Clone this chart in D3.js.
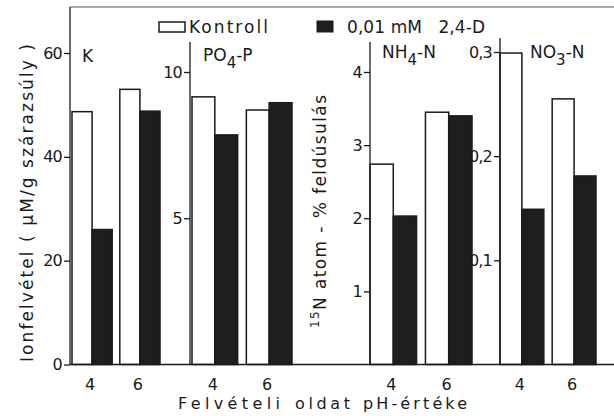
<!DOCTYPE html>
<html>
<head>
<meta charset="utf-8">
<script src="https://cdn.jsdelivr.net/npm/d3@7"></script>
<style>
  html, body { margin: 0; padding: 0; background: #fff; }
  svg { display: block; }
  text { font-family: "DejaVu Sans", "Noto Sans", sans-serif; fill: #1a1a1a; }
</style>
</head>
<body>
<svg id="chart" width="614" height="416"></svg>
<script>
// pH of the uptake solution
const phLevels = ["4", "6"];

// Ions, each drawn in its own panel with its own scale
const ionNames = ["K", "PO4-P", "NH4-N", "NO3-N"];

// Control uptake per ion, pH 4 and pH 6
const kontrollK   = [48.7, 53.0];
const kontrollPO4 = [9.15, 8.7];
const kontrollNH4 = [2.74, 3.45];
const kontrollNO3 = [0.299, 0.255];

// Uptake with 0.01 mM 2,4-D, pH 4 and pH 6
const dK   = [26.0, 48.8];
const dPO4 = [7.85, 8.95];
const dNH4 = [2.03, 3.40];
const dNO3 = [0.149, 0.181];

// Labelled ticks of each panel's axis
const ticksK   = [0, 20, 40, 60];
const ticksPO4 = [5, 10];
const ticksNH4 = [1, 2, 3, 4];
const ticksNO3 = [0.1, 0.2, 0.3];

const seriesNames = ["Kontroll", "0,01 mM   2,4-D"];

const huLocale = d3.formatLocale({ decimal: ",", thousands: " ", grouping: [3], currency: ["", " Ft"] });

const svg = d3.select("#chart");
const baseY = 364.5;
const ink = "#1a1a1a";
const darkFill = "#1e1e1e";

// panel layout: axis position, bar span, top of axis line, scale reference point
const panels = [
  { main: "K",  sub: "",  tail: "",   ctrl: kontrollK,   trt: dK,   ticks: ticksK,   fmt: d3.format("d"),
    axisX: 70,  span: [72, 160],  axisTop: 7,  refVal: 60,  refY: 53,  lab: [82, 62] },
  { main: "PO", sub: "4", tail: "-P", ctrl: kontrollPO4, trt: dPO4, ticks: ticksPO4, fmt: d3.format("d"),
    axisX: 190, span: [192, 292], axisTop: 42, refVal: 10,  refY: 72,  lab: [203, 61] },
  { main: "NH", sub: "4", tail: "-N", ctrl: kontrollNH4, trt: dNH4, ticks: ticksNH4, fmt: d3.format("d"),
    axisX: 370, span: [370, 472], axisTop: 42, refVal: 4,   refY: 72,  lab: [382, 58] },
  { main: "NO", sub: "3", tail: "-N", ctrl: kontrollNO3, trt: dNO3, ticks: ticksNO3, fmt: huLocale.format(".1f"),
    axisX: 500, span: [500, 596], axisTop: 38, refVal: 0.3, refY: 52,  lab: [530, 58] }
];

const barLayer = svg.append("g");
const axisLayer = svg.append("g");
const textLayer = svg.append("g");

// top frame line
barLayer.append("line").attr("x1", 70).attr("x2", 614).attr("y1", 7).attr("y2", 7)
  .attr("stroke", "#555").attr("stroke-width", 1);

panels.forEach(p => {
  const y = d3.scaleLinear().domain([0, p.refVal]).range([baseY, p.refY]);
  const x = d3.scaleBand().domain(phLevels).range(p.span).paddingInner(0.16);
  const xi = d3.scaleBand().domain(["ctrl", "trt"]).range([0, x.bandwidth()]);

  // bars
  phLevels.forEach((ph, i) => {
    [["ctrl", p.ctrl[i], "#fff"], ["trt", p.trt[i], darkFill]].forEach(([key, v, fill]) => {
      barLayer.append("rect")
        .attr("x", x(ph) + xi(key))
        .attr("y", y(v))
        .attr("width", xi.bandwidth())
        .attr("height", baseY - y(v))
        .attr("fill", fill)
        .attr("stroke", ink)
        .attr("stroke-width", 1.5);
    });
    // pH tick label
    textLayer.append("text")
      .attr("x", x(ph) + x.bandwidth() / 2 - 2)
      .attr("y", 390)
      .attr("text-anchor", "middle")
      .attr("font-size", 16)
      .text(ph);
  });

  // y axis
  const axis = d3.axisLeft(y).tickValues(p.ticks).tickFormat(p.fmt).tickSize(6).tickPadding(2);
  const ag = axisLayer.append("g").attr("transform", `translate(${p.axisX},0)`).call(axis);
  ag.select(".domain").remove();
  ag.selectAll(".tick line").attr("stroke", ink).attr("stroke-width", 1.3);
  ag.selectAll(".tick text").attr("font-size", 16).attr("fill", ink)
    .attr("letter-spacing", -0.8)
    .style("font-family", '"DejaVu Sans", sans-serif');
  axisLayer.append("line").attr("x1", p.axisX).attr("x2", p.axisX)
    .attr("y1", p.axisTop).attr("y2", baseY)
    .attr("stroke", ink).attr("stroke-width", 1.3);

  // panel label with subscript
  const t = textLayer.append("text").attr("x", p.lab[0]).attr("y", p.lab[1]).attr("font-size", 17);
  t.append("tspan").text(p.main);
  if (p.sub) {
    t.append("tspan").attr("dy", 7).attr("font-size", 15).text(p.sub);
    t.append("tspan").attr("dy", -7).text(p.tail);
  }
});

axisLayer.append("line").attr("x1", 70).attr("x2", 614).attr("y1", baseY).attr("y2", baseY)
  .attr("stroke", ink).attr("stroke-width", 1.6);

// legend
textLayer.append("rect").attr("x", 159).attr("y", 22).attr("width", 26).attr("height", 10)
  .attr("fill", "#fff").attr("stroke", ink).attr("stroke-width", 1.5);
textLayer.append("text").attr("x", 189).attr("y", 33).attr("font-size", 17)
  .attr("textLength", 79).attr("lengthAdjust", "spacing").text(seriesNames[0]);
textLayer.append("rect").attr("x", 317).attr("y", 21).attr("width", 16).attr("height", 11)
  .attr("fill", darkFill).attr("stroke", ink).attr("stroke-width", 1);
textLayer.append("text").attr("x", 347).attr("y", 33).attr("font-size", 17)
  .attr("textLength", 138).attr("lengthAdjust", "spacing")
  .style("white-space", "pre").text(seriesNames[1]);

// x axis title, words spread apart
[["Felvételi", 178, 102], ["oldat", 295, 55], ["pH-értéke", 363, 104]].forEach(([w, x0, len]) => {
  textLayer.append("text").attr("x", x0).attr("y", 409).attr("font-size", 16)
    .attr("textLength", len).attr("lengthAdjust", "spacing").text(w);
});

// left y title
textLayer.append("text")
  .attr("transform", "translate(33,362) rotate(-90)")
  .attr("font-size", 17)
  .attr("textLength", 318).attr("lengthAdjust", "spacing")
  .text("Ionfelvétel ( µM/g szárazsúly )");

// right y title for the nitrogen panels
const nt = textLayer.append("text")
  .attr("transform", "translate(326,328) rotate(-90)")
  .attr("font-size", 17)
  .attr("textLength", 233).attr("lengthAdjust", "spacing");
nt.append("tspan").attr("font-size", 12).attr("dy", -7).text("15");
nt.append("tspan").attr("dy", 7).text("N atom - % feldúsulás");
</script>
</body>
</html>
